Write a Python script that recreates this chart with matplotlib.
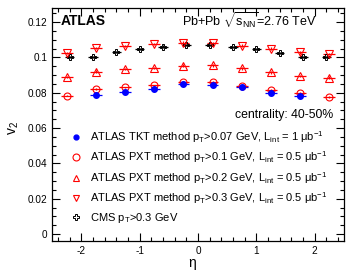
import numpy as np
import matplotlib
matplotlib.use("Agg")
import matplotlib.pyplot as plt
from matplotlib.ticker import MultipleLocator
from matplotlib.lines import Line2D

# ATLAS TKT, pT>0.07 GeV
eta_tkt = [-1.75, -1.25, -0.75, -0.25, 0.25, 0.75, 1.25, 1.75]
v2_tkt = [0.0786, 0.0802, 0.0820, 0.0851, 0.0846, 0.0833, 0.0801, 0.0779]

# ATLAS PXT bins
eta_pxt = [-2.25, -1.75, -1.25, -0.75, -0.25, 0.25, 0.75, 1.25, 1.75, 2.25]
v2_pxt01 = [0.0784, 0.0819, 0.0830, 0.0841, 0.0862, 0.0861, 0.0840, 0.0815, 0.0798, 0.0775]
v2_pxt02 = [0.0890, 0.0919, 0.0933, 0.0941, 0.0953, 0.0954, 0.0937, 0.0915, 0.0896, 0.0886]
v2_pxt03 = [0.1024, 0.1052, 0.1063, 0.1075, 0.1084, 0.1082, 0.1066, 0.1049, 0.1028, 0.1020]

# CMS pT>0.3 GeV
eta_cms = [-2.2, -1.8, -1.4, -1.0, -0.6, -0.2, 0.2, 0.6, 1.0, 1.4, 1.8, 2.2]
v2_cms = [0.1001, 0.1001, 0.1030, 0.1048, 0.1061, 0.1071, 0.1070, 0.1060, 0.1047, 0.1026, 0.1003, 0.1001]

labels = [
    r"ATLAS TKT method p$_{T}$>0.07 GeV, L$_{int}$ = 1 $\mu$b$^{-1}$",
    r"ATLAS PXT method p$_{T}$>0.1 GeV, L$_{int}$ = 0.5 $\mu$b$^{-1}$",
    r"ATLAS PXT method p$_{T}$>0.2 GeV, L$_{int}$ = 0.5 $\mu$b$^{-1}$",
    r"ATLAS PXT method p$_{T}$>0.3 GeV, L$_{int}$ = 0.5 $\mu$b$^{-1}$",
    r"CMS p$_{T}$>0.3 GeV",
]

plt.rcParams["font.family"] = "Liberation Sans"
plt.rcParams["mathtext.fontset"] = "custom"
plt.rcParams["mathtext.rm"] = "Liberation Sans"
plt.rcParams["mathtext.it"] = "Liberation Sans:italic"
plt.rcParams["mathtext.default"] = "regular"
plt.rcParams["axes.unicode_minus"] = False

fig = plt.figure(figsize=(3.52, 2.73), dpi=100)
ax = fig.add_axes([0.148, 0.117, 0.829, 0.854])

red = "#ff0000"
eb = dict(elinewidth=0.9, capsize=0, linestyle="none")

ax.errorbar(eta_cms, v2_cms, xerr=0.08, yerr=0.0007, color="black",
            marker="P", ms=5, mfc="none", mec="black", mew=0.7, **eb)
ax.errorbar(eta_pxt, v2_pxt03, xerr=0.1, yerr=0.0007, color=red,
            marker="v", ms=5.5, mfc="none", mec=red, mew=0.8, **eb)
ax.errorbar(eta_pxt, v2_pxt02, xerr=0.1, yerr=0.0007, color=red,
            marker="^", ms=5.5, mfc="none", mec=red, mew=0.8, **eb)
ax.errorbar(eta_pxt, v2_pxt01, xerr=0.1, yerr=0.0005, color=red,
            marker="o", ms=5, mfc="none", mec=red, mew=0.8, **eb)
ax.errorbar(eta_tkt, v2_tkt, xerr=0.1, yerr=0.0005, color="blue",
            marker="o", ms=4, mfc="blue", mec="blue", **eb)

ax.set_xlim(-2.5, 2.5)
ax.set_ylim(-0.004, 0.128)
ax.xaxis.set_major_locator(MultipleLocator(1))
ax.xaxis.set_minor_locator(MultipleLocator(0.2))
ax.yaxis.set_minor_locator(MultipleLocator(0.005))
ax.set_yticks([0, 0.02, 0.04, 0.06, 0.08, 0.1, 0.12])
ax.set_yticklabels(["0", "0.02", "0.04", "0.06", "0.08", "0.1", "0.12"])
ax.tick_params(which="both", direction="in", top=True, right=True,
               labelsize=7.2, width=0.8)
ax.tick_params(which="major", length=6)
ax.tick_params(which="minor", length=3)
for s in ax.spines.values():
    s.set_linewidth(0.9)

ax.set_xlabel(r"$\eta$", fontsize=10, va="center")
ax.set_ylabel(r"v$_{2}$", fontsize=10, va="center")
ax.xaxis.set_label_coords(0.48, -0.1)
ax.yaxis.set_label_coords(-0.13, 0.485)

ax.text(0.03, 0.945, "ATLAS", transform=ax.transAxes, fontsize=10,
        fontweight="bold", va="center")
ax.text(0.905, 0.945, r"Pb+Pb $\sqrt{s_{NN}}$=2.76 TeV", transform=ax.transAxes,
        fontsize=9, ha="right", va="center")
ax.text(0.965, 0.54, "centrality: 40-50%", transform=ax.transAxes,
        fontsize=8.8, ha="right", va="center")

handles = [
    Line2D([], [], ls="none", marker="o", ms=3.5, mfc="blue", mec="blue"),
    Line2D([], [], ls="none", marker="o", ms=5, mfc="none", mec=red, mew=0.8),
    Line2D([], [], ls="none", marker="^", ms=5, mfc="none", mec=red, mew=0.8),
    Line2D([], [], ls="none", marker="v", ms=5, mfc="none", mec=red, mew=0.8),
    Line2D([], [], ls="none", marker="P", ms=4.5, mfc="none", mec="black", mew=0.7),
]
ax.legend(handles, labels, loc="upper left",
          bbox_to_anchor=(0.045, 0.505), frameon=False, fontsize=8,
          handlelength=1.0, handletextpad=0.75, labelspacing=0.42,
          borderpad=0)

fig.savefig("out.png", dpi=100)
